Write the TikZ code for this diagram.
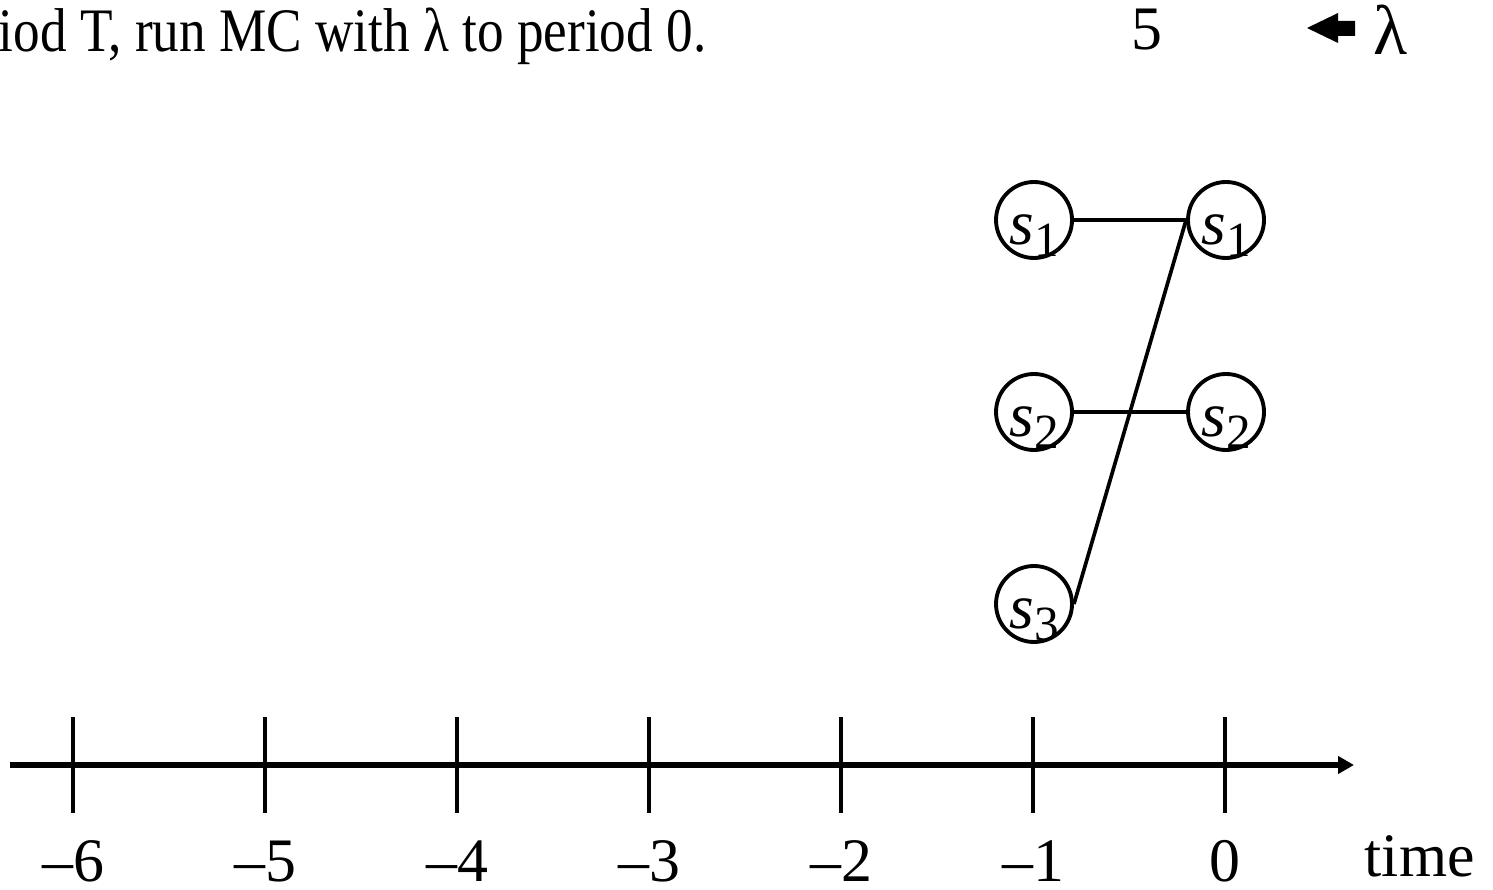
\documentclass[tikz,border=0pt]{standalone}
\usepackage{fontspec}
\setmainfont{Liberation Serif}
\usepackage{tikz}
\usetikzlibrary{arrows.meta,positioning}

% state label: italic s with a big lowered index
\newcommand{\stlab}[1]{\raisebox{-0.25cm}[0pt][0pt]{\textit{s}\raisebox{-0.12cm}{\fontsize{14}{14}\selectfont #1}}}

\begin{document}
\begin{tikzpicture}[>=Stealth, node distance=1.92cm and 1.92cm, on grid,
  st/.style={draw, circle, line width=1.1pt, minimum size=0.76cm, inner sep=0pt,
    font=\fontsize{18}{18}\selectfont},
  ln/.style={line width=1.05pt},
  big/.style={font=\fontsize{17.6}{20}\selectfont, inner sep=0pt}]
\clip (0,0) rectangle (14.93,8.89);

% heading
\node[big, anchor=base east] (head) at (7.07,8.37) {\scalebox{0.86}[1]{iod T, run MC with λ to period 0.}};
\node[big, anchor=base] (num) at (11.47,8.39) {5};
\node[big, font=\fontsize{20}{22}\selectfont, anchor=base west] (lam) at (13.73,8.34) {λ};
\fill (13.07,8.61) -- (13.38,8.76) -- (13.38,8.68) -- (13.55,8.68)
  -- (13.55,8.53) -- (13.38,8.53) -- (13.38,8.46) -- cycle;

% states
\node[st] (l1) at (10.34,6.69) {\stlab{1}};
\node[st, below=of l1] (l2) {\stlab{2}};
\node[st, below=of l2] (l3) {\stlab{3}};
\node[st, right=of l1] (r1) {\stlab{1}};
\node[st, right=of l2] (r2) {\stlab{2}};

\draw[ln] (l1) -- (r1);
\draw[ln] (l2) -- (r2);
\draw[ln] (l3.east) -- (r1.west);

% time axis
\coordinate (ax0) at (0.10,1.24);
\coordinate (ax1) at (13.54,1.24);
\draw[line width=1.45pt, -{Triangle[length=0.16cm,width=0.17cm]}] (ax0) -- (ax1);
\foreach \k in {0,...,6} {
  \draw[ln] (12.25-1.92*\k,1.72) -- (12.25-1.92*\k,0.76);
  \node[big, anchor=base] (t\k) at (12.25-1.92*\k,0.08) {\ifnum\k=0 0\else –\k\fi};
}
\node[big, anchor=base west] (time) at (13.64,0.13) {time};
\end{tikzpicture}
\end{document}
